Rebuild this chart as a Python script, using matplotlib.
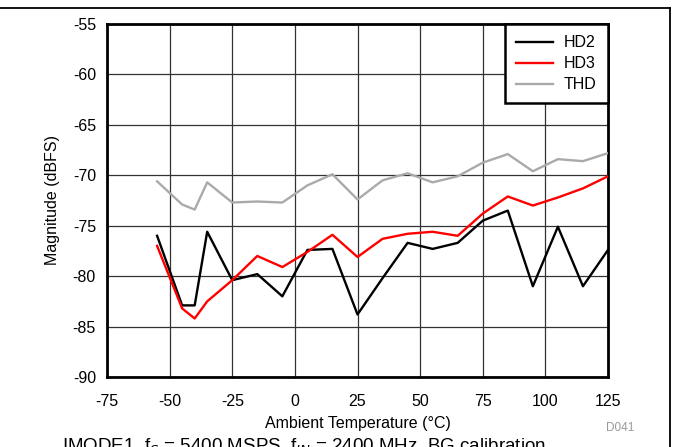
import matplotlib
matplotlib.use("Agg")
import matplotlib.pyplot as plt
from matplotlib.lines import Line2D

plt.rcParams['font.family'] = ['Liberation Sans', 'DejaVu Sans']

temps = [-55, -45, -40, -35, -25, -15, -5, 5, 15, 25, 35, 45, 55, 65, 75, 85, 95, 105, 115, 125]
hd2 = [-76.0, -82.9, -82.9, -75.6, -80.4, -79.8, -82.0, -77.4, -77.3, -83.8, -80.2, -76.7,
       -77.3, -76.7, -74.5, -73.5, -81.0, -75.1, -81.0, -77.4]
hd3 = [-77.0, -83.2, -84.2, -82.5, -80.4, -78.0, -79.1, -77.6, -75.9, -78.1, -76.3, -75.8,
       -75.6, -76.0, -73.8, -72.1, -73.0, -72.2, -71.3, -70.1]
thd = [-70.6, -72.9, -73.4, -70.7, -72.7, -72.6, -72.7, -71.0, -69.9, -72.4, -70.5, -69.8,
       -70.7, -70.1, -68.75, -67.9, -69.6, -68.4, -68.6, -67.8]

xticks = [-75, -50, -25, 0, 25, 50, 75, 100, 125]
yticks = [-90, -85, -80, -75, -70, -65, -60, -55]

W, H = 673, 447
fig = plt.figure(figsize=(W / 100, H / 100), dpi=100)
ax = fig.add_axes([107 / W, 1 - 377 / H, (608 - 107) / W, (377 - 24) / H])

ax.plot(temps, hd2, color='black', lw=1.7, label='HD2', zorder=3)
ax.plot(temps, hd3, color='#ff0000', lw=1.7, label='HD3', zorder=3)
ax.plot(temps, thd, color='#aaaaaa', lw=1.7, label='THD', zorder=3)

ax.set_xlim(-75, 125)
ax.set_ylim(-90, -55)
ax.set_xticks(xticks)
ax.set_yticks(yticks)
ax.set_xticklabels([str(t) for t in xticks])
ax.set_yticklabels([str(t) for t in yticks])
ax.tick_params(length=0, labelsize=11.5)
ax.tick_params(axis='y', pad=8)
ax.tick_params(axis='x', pad=12)
ax.grid(True, color='#333333', lw=0.9)
ax.set_axisbelow(True)
for s in ax.spines.values():
    s.set_linewidth(2.0)
    s.set_color('black')

ax.set_xlabel('Ambient Temperature (°C)', fontsize=11.5, labelpad=5)
ax.set_ylabel('Magnitude (dBFS)', fontsize=11.5, labelpad=9)

leg = ax.legend(loc='upper right', fontsize=11.5, frameon=True, fancybox=False,
                borderaxespad=0, handlelength=2.3, handletextpad=0.7,
                labelspacing=0.38, borderpad=0.7)
leg.get_frame().set_edgecolor('black')
leg.get_frame().set_linewidth(1.8)
leg.get_frame().set_alpha(1)

fig.text(620 / W, 1 - 428 / H, 'D041', fontsize=8.5, color='#999999', ha='center', va='center')
fig.text(62 / W, 1 - 437 / H, 'IMODE1, f$_S$ = 5400 MSPS, f$_{IN}$ = 2400 MHz, BG calibration',
         fontsize=13.5, ha='left', va='top')

fig.add_artist(Line2D([0, 670 / W], [1 - 8 / H, 1 - 8 / H], transform=fig.transFigure,
                      color='black', lw=1.3))
fig.add_artist(Line2D([670 / W, 670 / W], [0, 1 - 8 / H], transform=fig.transFigure,
                      color='black', lw=1.3))

fig.savefig('out.png', dpi=100)
